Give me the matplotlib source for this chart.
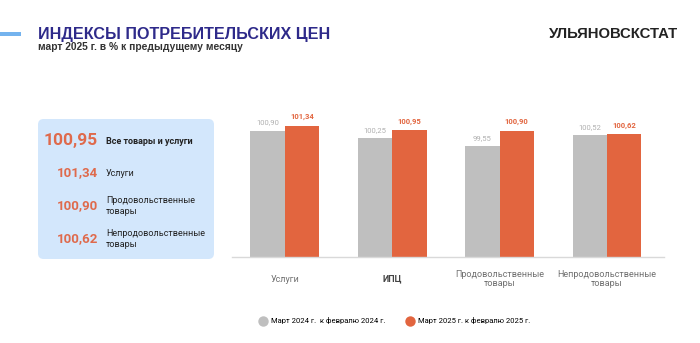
import matplotlib
matplotlib.use("Agg")
import matplotlib.pyplot as plt
from matplotlib.patches import FancyBboxPatch, Rectangle
import numpy as np

categories = ["Услуги", "ИПЦ", "Продовольственные\nтовары", "Непродовольственные\nтовары"]
values_2024 = [100.90, 100.25, 99.55, 100.52]
values_2025 = [101.34, 100.95, 100.90, 100.62]
series_labels = ["Март 2024 г.  к февралю 2024 г.", "Март 2025 г. к февралю 2025 г."]

panel_values = [100.95, 101.34, 100.90, 100.62]
panel_labels = ["Все товары и услуги", "Услуги", "Продовольственные\nтовары",
                "Непродовольственные\nтовары"]

title = "ИНДЕКСЫ ПОТРЕБИТЕЛЬСКИХ ЦЕН"
subtitle = "март 2025 г. в % к предыдущему месяцу"
agency = "УЛЬЯНОВСКСТАТ"

GREY = "#bfbfbf"
ORANGE = "#e2653f"
PANEL_ORANGE = "#df6a4c"
TITLE_BLUE = "#2e2a8a"

W, H = 700, 343
fig = plt.figure(figsize=(W / 100, H / 100), dpi=100)
fig.patch.set_facecolor("white")


def fx(px):
    return px / W


def fy(py):
    return 1 - py / H


# header
fig.patches.append(Rectangle((0, fy(36)), fx(21), 4 / H, transform=fig.transFigure,
                             facecolor="#74b3ee", edgecolor="none"))
fig.text(fx(38), fy(34.5), title, fontsize=11.6, fontweight="bold", color=TITLE_BLUE,
         family="Liberation Sans", va="center", ha="left")
fig.text(fx(38), fy(47.5), subtitle, fontsize=7.4, fontweight="bold", color="#333333",
         family="Liberation Sans", va="center", ha="left")
fig.text(fx(678), fy(34), agency, fontsize=10.7, fontweight="bold", color="#222222",
         family="Liberation Sans", va="center", ha="right")

# summary panel
fig.patches.append(FancyBboxPatch((fx(38), fy(259)), fx(214) - fx(38), fy(119) - fy(259),
                                  boxstyle="round,pad=0,rounding_size=0.008",
                                  transform=fig.transFigure, facecolor="#d3e7fc",
                                  edgecolor="none", mutation_aspect=W / H))
panel_y = [141, 173, 206, 239]
for i, (v, lab, y) in enumerate(zip(panel_values, panel_labels, panel_y)):
    txt = f"{v:.2f}".replace(".", ",")
    fig.text(fx(98), fy(y), txt, fontsize=12.5 if i == 0 else 9.5, fontweight="bold",
             color=PANEL_ORANGE, family="Roboto", ha="right", va="center")
    fig.text(fx(106), fy(y), lab, fontsize=6.5, color="#222222",
             fontweight="bold" if i == 0 else "normal", family="Roboto",
             ha="left", va="center", linespacing=1.15)

# bar chart
ax = fig.add_axes([fx(232), fy(257), fx(664) - fx(232), fy(95) - fy(257)])
x = np.arange(len(categories))
bw = 0.32
ax.bar(x - bw / 2, values_2024, width=bw, color=GREY, zorder=2)
ax.bar(x + bw / 2, values_2025, width=bw, color=ORANGE, zorder=2)
ax.set_ylim(90, 104)
ax.set_xlim(-0.49, 3.53)
for xi, v in zip(x, values_2024):
    ax.annotate(f"{v:.2f}".replace(".", ","), (xi - bw / 2, v), xytext=(0, 4),
                textcoords="offset points", ha="center", va="bottom",
                fontsize=5.5, color="#b0b0b0", family="Roboto")
for xi, v in zip(x, values_2025):
    ax.annotate(f"{v:.2f}".replace(".", ","), (xi + bw / 2, v), xytext=(0, 4),
                textcoords="offset points", ha="center", va="bottom",
                fontsize=5.5, color=ORANGE, fontweight="bold", family="Roboto")

for s in ["top", "right", "left"]:
    ax.spines[s].set_visible(False)
ax.spines["bottom"].set_color("#d9d9d9")
ax.spines["bottom"].set_linewidth(1.0)
ax.set_yticks([])
ax.set_xticks(x)
ax.set_xticklabels(categories, fontsize=6.5, color="#707070", family="Roboto",
                   linespacing=1.0)
ax.tick_params(axis="x", length=0, pad=16)
for lbl in ax.get_xticklabels():
    lbl.set_va("center")
    if lbl.get_text() == "ИПЦ":
        lbl.set_fontweight("bold")
        lbl.set_color("#444444")
ax.set_facecolor("none")

# legend
handles = [plt.Line2D([], [], marker="o", ls="none", markersize=7.5,
                      markerfacecolor=c, markeredgecolor="none") for c in (GREY, ORANGE)]
fig.legend(handles, series_labels, loc="center left", bbox_to_anchor=(fx(252), fy(321)),
           ncol=2, frameon=False, prop={"family": "Roboto", "size": 5.5},
           handletextpad=0.4, columnspacing=2.6, handlelength=1.2)

fig.savefig("out.png", dpi=100, facecolor="white")
